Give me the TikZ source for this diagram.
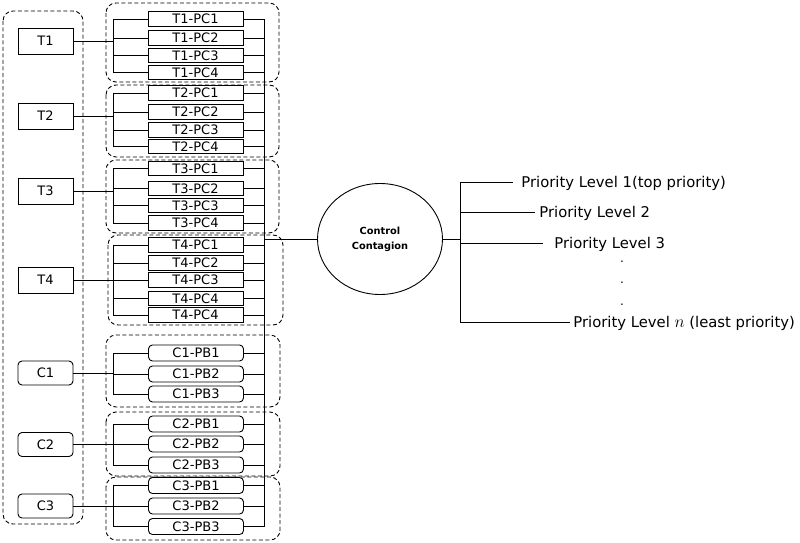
\documentclass[tikz,border=0pt]{standalone}
\usepackage{fontspec}
\setmainfont{DejaVu Sans}
\usetikzlibrary{shapes.geometric,calc}
\begin{document}
\begin{tikzpicture}[x=1pt,y=-1pt,line width=0.9pt,
 pcbox/.style={draw, minimum width=95pt, minimum height=14.5pt, inner sep=0pt, font=\fontsize{13}{13}\selectfont},
 pbbox/.style={pcbox, rounded corners=4pt, minimum height=16pt},
 tbox/.style={draw, minimum width=55pt, minimum height=26pt, inner sep=0pt, font=\fontsize{13}{13}\selectfont},
 cbox/.style={tbox, rounded corners=4pt, minimum height=24pt},
 grp/.style={draw, dash pattern=on 4pt off 2.5pt, rounded corners=10pt},
 plabel/.style={anchor=base west, inner sep=0pt, font=\fontsize{14.8}{14.8}\selectfont},
 dotlabel/.style={inner sep=0pt, font=\fontsize{12}{12}\selectfont},
]
\useasboundingbox (0,0) rectangle (800,543);

% dashed groups
\draw[grp] (3,11) rectangle (83,524);
\draw[grp] (106,3) rectangle (279,82);
\draw[grp] (106,85) rectangle (279,157);
\draw[grp] (106,160) rectangle (279,233);
\draw[grp] (108,235) rectangle (283,325);
\draw[grp] (106,335) rectangle (280,407);
\draw[grp] (106,412) rectangle (280,476);
\draw[grp] (106,477) rectangle (280,540);

% left boxes
\node[tbox] (t1) at (45.5,41) {T1};
\node[tbox] (t2) at (45.5,116) {T2};
\node[tbox] (t3) at (45.5,191) {T3};
\node[tbox] (t4) at (45.5,280) {T4};
\node[cbox] (c1) at (45.5,373) {C1};
\node[cbox] (c2) at (45.5,444.5) {C2};
\node[cbox] (c3) at (45.5,506) {C3};

% sub boxes
\foreach \n/\y/\t in {t1p1/19/T1-PC1, t1p2/38/T1-PC2, t1p3/55.5/T1-PC3, t1p4/72.5/T1-PC4,
  t2p1/93/T2-PC1, t2p2/112/T2-PC2, t2p3/130/T2-PC3, t2p4/146.5/T2-PC4,
  t3p1/168.5/T3-PC1, t3p2/188.5/T3-PC2, t3p3/205.5/T3-PC3, t3p4/223/T3-PC4,
  t4p1/245/T4-PC1, t4p2/263/T4-PC2, t4p3/280/T4-PC3, t4p4/298.5/T4-PC4, t4p5/315/T4-PC4}
  \node[pcbox] (\n) at (195.5,\y) {\t};
\foreach \n/\y/\t in {c1p1/353/C1-PB1, c1p2/374/C1-PB2, c1p3/394/C1-PB3,
  c2p1/424/C2-PB1, c2p2/444/C2-PB2, c2p3/465/C2-PB3,
  c3p1/485.5/C3-PB1, c3p2/506/C3-PB2, c3p3/526.5/C3-PB3}
  \node[pbbox] (\n) at (196,\y) {\t};

\coordinate (bx) at (113,0);
\coordinate (rx) at (264,0);

% left connectors and brackets
\foreach \m/\f/\l/\mids in {t1/t1p1/t1p4/{t1p2,t1p3}, t2/t2p1/t2p4/{t2p2,t2p3}, t3/t3p1/t3p4/{t3p2,t3p3},
  t4/t4p1/t4p5/{t4p2,t4p3,t4p4}, c1/c1p1/c1p3/{c1p2}, c2/c2p1/c2p3/{c2p2}, c3/c3p1/c3p3/{c3p2}}{
  \draw (\m.east) -- (\m.east -| bx);
  \draw (\f.west) -- (\f.west -| bx) -- (\l.west -| bx) -- (\l.west);
  \foreach \k in \mids { \draw (\k.west) -- (\k.west -| bx); }
}

% right connectors
\foreach \n in {t1p1,t1p2,t1p3,t1p4,t2p1,t2p2,t2p3,t2p4,t3p1,t3p2,t3p3,t3p4,
  t4p1,t4p2,t4p3,t4p4,t4p5,c1p1,c1p2,c1p3,c2p1,c2p2,c2p3,c3p1,c3p2,c3p3}
  \draw (\n.east) -- (\n.east -| rx);
\draw (t1p1.east -| rx) -- (c3p3.east -| rx);

% control contagion
\node[ellipse, draw, minimum width=125pt, minimum height=111pt, inner sep=0pt, align=center,
  font=\bfseries\fontsize{9.8}{15}\selectfont] (cc) at (380,239) {Control\\Contagion};
\coordinate (j) at (264,239);
\draw (j) -- (cc.west);
\coordinate (k) at (460,239);
\draw (cc.east) -- (k);
\coordinate (vt) at (460,182);
\coordinate (vb) at (460,322);
\draw (vt) -- (vb);

% priority labels
\node[plabel] (p1) at (521,187.5) {Priority Level 1(top priority)};
\node[plabel] (p2) at (539,217) {Priority Level 2};
\node[plabel] (p3) at (554,248.5) {Priority Level 3};
\node[plabel] (pn) at (573,327.5) {Priority Level {\fontsize{19}{19}\selectfont$n$} (least priority)};
\node[dotlabel] (d1) at (622,262) {.};
\node[dotlabel] (d2) at (622,283) {.};
\node[dotlabel] (d3) at (622,305) {.};

\coordinate (v2) at (460,212);
\coordinate (v3) at (460,243);
\draw (vt) -- ($(vt -| p1.west)+(-8,0)$);
\draw (v2) -- ($(v2 -| p2.west)+(-4,0)$);
\draw (v3) -- ($(v3 -| p3.west)+(-11,0)$);
\draw (vb) -- ($(vb -| pn.west)+(-3,0)$);
\end{tikzpicture}
\end{document}
